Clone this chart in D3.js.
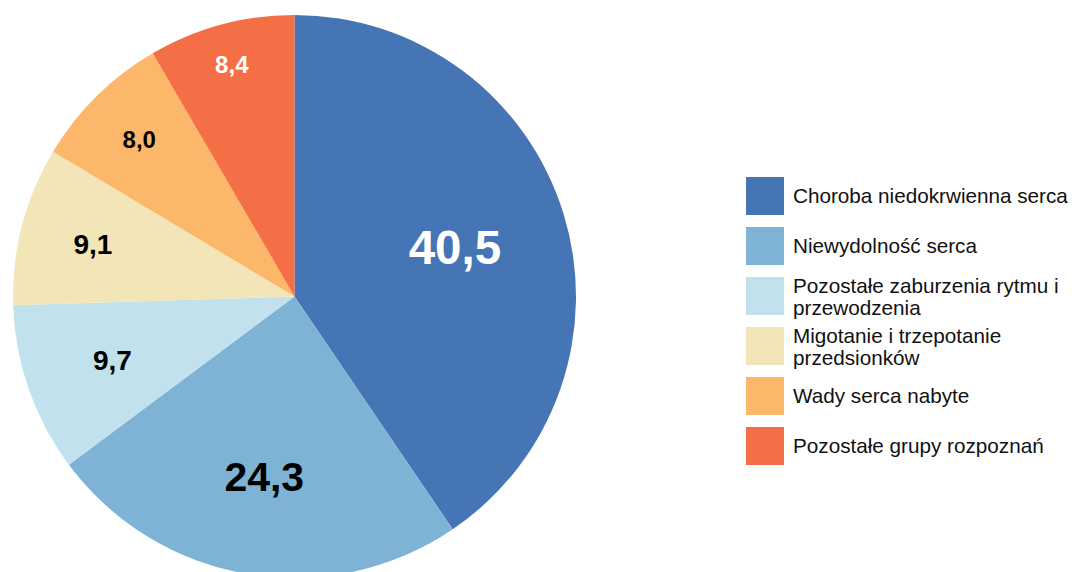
<!DOCTYPE html>
<html><head><meta charset="utf-8">
<script src="https://cdn.jsdelivr.net/npm/d3@7"></script>
<style>
html,body{margin:0;padding:0;background:#fff;}
svg{display:block;}
</style>
</head><body>
<svg id="chart" width="1077" height="572"></svg>
<script>
// data
const categories = [
  "Choroba niedokrwienna serca",
  "Niewydolność serca",
  "Pozostałe zaburzenia rytmu i przewodzenia",
  "Migotanie i trzepotanie przedsionków",
  "Wady serca nabyte",
  "Pozostałe grupy rozpoznań"
];
const legendLines = [
  ["Choroba niedokrwienna serca"],
  ["Niewydolność serca"],
  ["Pozostałe zaburzenia rytmu i", "przewodzenia"],
  ["Migotanie i trzepotanie", "przedsionków"],
  ["Wady serca nabyte"],
  ["Pozostałe grupy rozpoznań"]
];
const values = [40.5, 24.3, 9.7, 9.1, 8.0, 8.4];
const colors = ["#4675b5", "#7fb3d5", "#c1e2ec", "#f2e6b9", "#fdb76b", "#f46f45"];
// label styling
const labelColors = ["#ffffff", "#000000", "#000000", "#000000", "#000000", "#ffffff"];
const labelSizes = [47.5, 41, 28, 28, 24, 24];
const labelRadiusFrac = [0.596, 0.648, 0.685, 0.74, 0.785, 0.854];

const svg = d3.select("#chart");
const cx = 294.5, cy = 296.5, R = 281.5;
const fmt = v => d3.format(".1f")(v).replace(".", ",");

const pie = d3.pie().sort(null).value(d => d)(values);
const arc = d3.arc().innerRadius(0).outerRadius(R);
const g = svg.append("g").attr("transform", `translate(${cx},${cy})`);

g.selectAll("path.slice").data(pie).join("path")
  .attr("class", "slice")
  .attr("d", arc)
  .attr("fill", (d, i) => colors[i]);

g.selectAll("text.lbl").data(pie).join("text")
  .attr("class", "lbl")
  .each(function(d, i) {
    const lr = R * labelRadiusFrac[i];
    const c = d3.arc().innerRadius(lr).outerRadius(lr).centroid(d);
    d3.select(this)
      .attr("x", c[0])
      .attr("y", c[1] + labelSizes[i] * 0.345)
      .attr("font-size", labelSizes[i] + "px")
      .attr("fill", labelColors[i]);
  })
  .attr("text-anchor", "middle")
  .attr("font-family", "'Liberation Sans', Arial, sans-serif")
  .attr("font-weight", "bold")
  .text(d => fmt(d.data));

// legend
const legY = d3.scaleBand().domain(d3.range(categories.length)).range([177, 477]).paddingInner(0);
const leg = svg.append("g");
const items = leg.selectAll("g").data(categories).join("g")
  .attr("transform", (d, i) => `translate(746,${legY(i)})`);
items.append("rect").attr("width", 38).attr("height", 38)
  .attr("fill", (d, i) => colors[i]);
items.each(function(d, i) {
  const lines = legendLines[i];
  const t = d3.select(this).append("text")
    .attr("font-family", "'Liberation Sans', Arial, sans-serif")
    .attr("font-size", "20.7px")
    .attr("fill", "#111111");
  lines.forEach((ln, j) => {
    const base = lines.length === 1 ? 26 : 16 + j * 22;
    t.append("tspan").attr("x", 47).attr("y", base).text(ln);
  });
});
</script>
</body></html>
